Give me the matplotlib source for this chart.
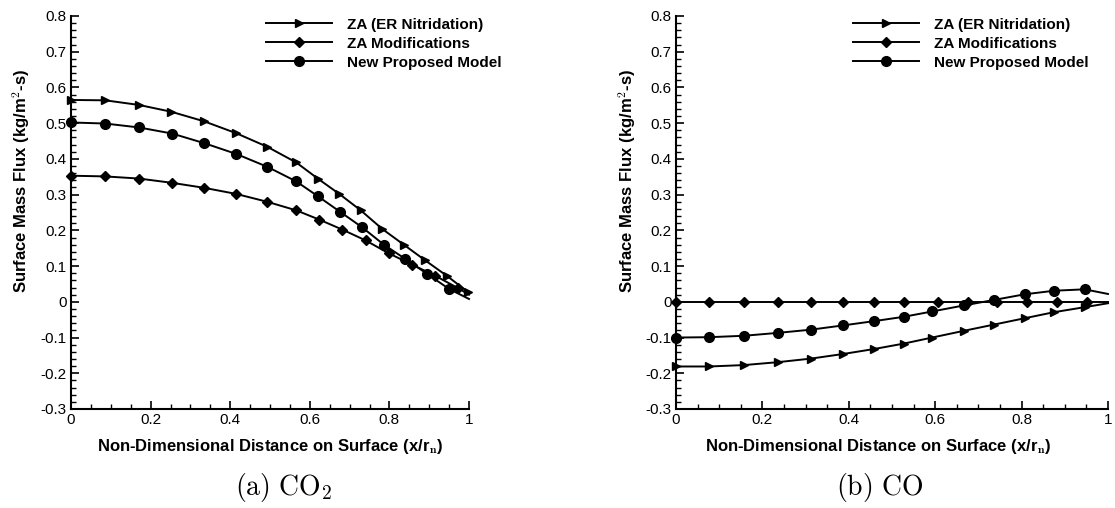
import matplotlib
matplotlib.use("Agg")
import matplotlib.pyplot as plt
from matplotlib.lines import Line2D
from matplotlib.ticker import MultipleLocator, FuncFormatter

plt.rcParams["font.family"] = ["Liberation Sans", "DejaVu Sans"]
plt.rcParams["axes.unicode_minus"] = False
plt.rcParams["mathtext.fontset"] = "cm"

# ---- CO2 surface mass flux ----
co2_er_x = [0, 0.086, 0.171, 0.252, 0.335, 0.415, 0.493, 0.566, 0.62, 0.674,
            0.728, 0.782, 0.836, 0.89, 0.944, 0.998]
co2_er_y = [0.565, 0.564, 0.551, 0.532, 0.505, 0.472, 0.434, 0.39, 0.345, 0.302,
            0.256, 0.204, 0.16, 0.116, 0.073, 0.027]

co2_mod_x = [0, 0.086, 0.171, 0.254, 0.335, 0.415, 0.493, 0.566, 0.624, 0.682,
             0.74, 0.798, 0.857, 0.915, 0.973, 1.0]
co2_mod_y = [0.353, 0.351, 0.345, 0.333, 0.319, 0.302, 0.28, 0.256, 0.23, 0.202,
             0.172, 0.136, 0.104, 0.073, 0.038, 0.02]

co2_new_x = [0, 0.086, 0.171, 0.254, 0.335, 0.415, 0.493, 0.566, 0.621, 0.676,
             0.731, 0.786, 0.84, 0.895, 0.95, 1.0]
co2_new_y = [0.502, 0.499, 0.488, 0.471, 0.444, 0.414, 0.378, 0.337, 0.295, 0.252,
             0.209, 0.16, 0.12, 0.078, 0.036, 0.008]

# ---- CO surface mass flux ----
co_x = [0, 0.077, 0.158, 0.235, 0.312, 0.387, 0.459, 0.527, 0.593, 0.667,
        0.735, 0.807, 0.875, 0.946, 1.0]
co_er_y = [-0.181, -0.181, -0.177, -0.169, -0.159, -0.146, -0.132, -0.117, -0.1,
           -0.081, -0.064, -0.046, -0.029, -0.015, -0.004]
co_new_y = [-0.1, -0.099, -0.095, -0.087, -0.078, -0.066, -0.054, -0.042, -0.027,
            -0.01, 0.005, 0.021, 0.031, 0.035, 0.022]

co_mod_x = [0, 0.077, 0.158, 0.235, 0.312, 0.387, 0.459, 0.527, 0.606, 0.677,
            0.743, 0.813, 0.883, 0.951, 1.0]
co_mod_y = [0, 0, 0, 0, 0, 0, 0, 0, 0, 0, 0, 0, 0, 0, 0]

series_names = ["ZA (ER Nitridation)", "ZA Modifications", "New Proposed Model"]
markers = [">", "D", "o"]
marker_sizes = [5.5, 5.5, 7]

x_label = r"Non-Dimensional Distance on Surface (x/r$_\mathbf{n}$)"
y_label = r"Surface Mass Flux (kg/m$^\mathbf{2}$-s)"
captions = [r"$\mathrm{(a)\ CO_2}$", r"$\mathrm{(b)\ CO}$"]

W, H = 1115, 508
fig = plt.figure(figsize=(W / 100, H / 100), dpi=100)


def px_axes(left, top, right, bottom):
    return fig.add_axes([left / W, 1 - bottom / H, (right - left) / W, (bottom - top) / H])


ax_l = px_axes(71, 16, 469, 409)
ax_r = px_axes(676, 16, 1108, 409)


def tick_fmt(v, _):
    if abs(v) < 1e-9:
        return "0"
    if abs(v - 1) < 1e-9:
        return "1"
    return f"{v:.1f}"


def style_axes(ax, ylab_x, xlab_x):
    ax.set_xlim(0, 1)
    ax.set_ylim(-0.3, 0.8)
    for s in ("top", "right"):
        ax.spines[s].set_visible(False)
    for s in ("left", "bottom"):
        ax.spines[s].set_linewidth(1.5)
    ax.xaxis.set_major_locator(MultipleLocator(0.2))
    ax.xaxis.set_minor_locator(MultipleLocator(0.05))
    ax.yaxis.set_major_locator(MultipleLocator(0.1))
    ax.yaxis.set_minor_locator(MultipleLocator(0.02))
    ax.xaxis.set_major_formatter(FuncFormatter(tick_fmt))
    ax.yaxis.set_major_formatter(FuncFormatter(tick_fmt))
    ax.tick_params(which="major", direction="in", length=6, width=1.2,
                   labelsize=11, pad=3, top=False, right=False)
    ax.tick_params(which="minor", direction="in", length=3.5, width=1.0,
                   top=False, right=False)
    ax.set_xlabel(x_label, fontsize=12, fontweight="bold")
    ax.set_ylabel(y_label, fontsize=12, fontweight="bold")
    ax.xaxis.set_label_coords(xlab_x, -0.07)
    ax.yaxis.set_label_coords(ylab_x, 0.58)
    ax.patch.set_visible(False)


def draw(ax, xs, ys):
    for x, y, m, ms in zip(xs, ys, markers, marker_sizes):
        # the trailing shoulder point closes the line without a symbol
        marked = list(range(len(x))) if x[-1] < 1.0 else list(range(len(x) - 1))
        ax.plot(x, y, color="black", lw=1.4, marker=m, ms=ms, markevery=marked,
                markerfacecolor="black", markeredgecolor="black", clip_on=False,
                zorder=3)


def add_legend(ax, anchor_x):
    handles = [Line2D([], [], color="black", lw=1.4, marker=m, ms=ms)
               for m, ms in zip(markers, marker_sizes)]
    leg = ax.legend(handles, series_names, loc="upper left",
                    bbox_to_anchor=(anchor_x, 0.996), frameon=False, numpoints=1,
                    handlelength=4.3, handletextpad=1.0, labelspacing=0.33,
                    borderpad=0, borderaxespad=0,
                    prop={"weight": "bold", "size": 11})
    return leg


draw(ax_l, [co2_er_x, co2_mod_x, co2_new_x], [co2_er_y, co2_mod_y, co2_new_y])
draw(ax_r, [co_x, co_mod_x, co_x], [co_er_y, co_mod_y, co_new_y])

style_axes(ax_l, -0.098, 0.5)
style_axes(ax_r, -0.088, 0.468)
add_legend(ax_l, 0.49)
add_legend(ax_r, 0.41)

fig.text(284 / W, 1 - 488 / H, captions[0], ha="center", va="center", fontsize=20)
fig.text(880 / W, 1 - 488 / H, captions[1], ha="center", va="center", fontsize=20)

fig.savefig("out.png", dpi=100)
